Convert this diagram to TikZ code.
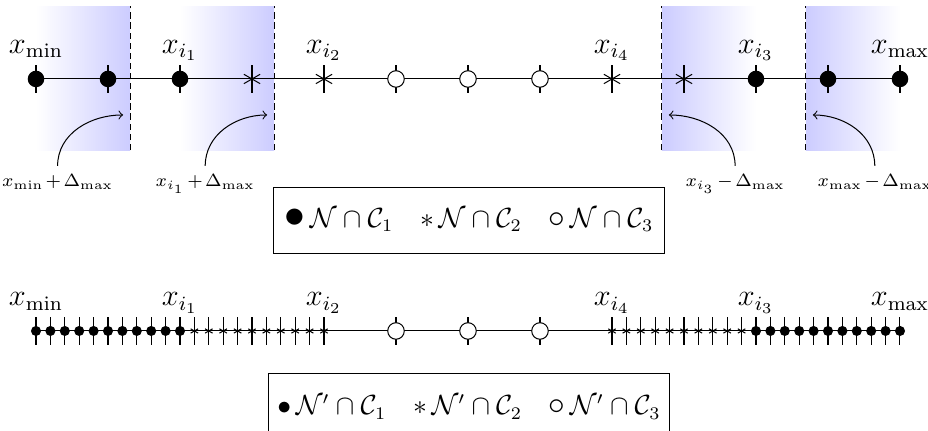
\documentclass[tikz,border=0pt]{standalone}
\usepackage{amsmath,amssymb}
\usepackage{tikz}
\newcommand{\dlbl}[1]{$\medmuskip=2mu\relax #1$}
\tikzset{every picture/.style={line width=0.4pt},
  bigdot/.style={circle,fill=black,inner sep=0pt,minimum size=0.23cm},
  smalldot/.style={circle,fill=black,inner sep=0pt,minimum size=0.14cm},
  opendot/.style={circle,draw,fill=white,inner sep=0pt,minimum size=0.23cm},
  legendbox/.style={draw,minimum width=5.42cm,minimum height=0.917cm,font=\fontsize{10.5}{12}\selectfont},
  deltalbl/.style={font=\fontsize{7.4}{9}\selectfont,anchor=base},
  ptlbl/.style={font=\large,anchor=base},
  zoneedge/.style={dash pattern=on 2.5pt off 1.5pt},
  bigast/.pic={\draw (30:0.13) -- (210:0.13) (150:0.13) -- (330:0.13);},
  smallast/.pic={\draw (30:0.06) -- (210:0.06) (150:0.06) -- (330:0.06);}}

\begin{document}
\begin{tikzpicture}[x=1cm,y=1cm]
\useasboundingbox (0,0) rectangle (12.889,5.986);
\shade[left color=white,right color=blue!20] (0.5,3.9) rectangle (1.806,5.9);
\shade[left color=white,right color=blue!20] (2.5,3.9) rectangle (3.806,5.9);
\shade[left color=blue!20,right color=white] (9.194,3.9) rectangle (10.5,5.9);
\shade[left color=blue!20,right color=white] (11.194,3.9) rectangle (12.5,5.9);
\foreach \xd in {1.806,3.806,9.194,11.194}
  \draw[zoneedge] (\xd,3.9) -- (\xd,5.9);
\foreach \i in {0,...,12} \coordinate (a\i) at (0.5+\i,4.889);
\draw (a0) -- (a12);
\foreach \i in {0,...,12} \draw (a\i) ++(0,-0.19) -- ++(0,0.38);
\foreach \i in {0,1,2,10,11,12} \node[bigdot] (n\i) at (a\i) {};
\foreach \i in {3,4,8,9} \pic at (a\i) {bigast};
\foreach \i in {5,6,7} \node[opendot] (n\i) at (a\i) {};
\foreach \i/\lab in {0/{\min},2/{i_1},4/{i_2},8/{i_4},10/{i_3},12/{\max}}
  \path (a\i) ++(0,0.36) node[ptlbl] (ta\i) {$x_{\lab}$};
\coordinate (e1) at (1.71,4.389);
\coordinate (e2) at (3.71,4.389);
\coordinate (e3) at (9.29,4.389);
\coordinate (e4) at (11.29,4.389);
\node[deltalbl] (d1) at (0.80,3.389) {\dlbl{x_{\min}+\Delta_{\max}}};
\node[deltalbl] (d2) at (2.85,3.389) {\dlbl{x_{i_1}+\Delta_{\max}}};
\node[deltalbl] (d3) at (10.21,3.389) {\dlbl{x_{i_3}-\Delta_{\max}}};
\node[deltalbl] (d4) at (12.15,3.389) {\dlbl{x_{\max}-\Delta_{\max}}};
\draw[->] (d1.north) to[out=90,in=180] (e1);
\draw[->] (d2.north) to[out=90,in=180] (e2);
\draw[->] (d3.north) to[out=90,in=0] (e3);
\draw[->] (d4.north) to[out=90,in=0] (e4);
\node[legendbox] (leg1) at (6.514,2.93)
  {$\scalebox{1.5}{$\bullet$}\,\mathcal{N}\cap\mathcal{C}_1\quad{\ast}\,\mathcal{N}\cap\mathcal{C}_2\quad\scalebox{1.2}{$\circ$}\,\mathcal{N}\cap\mathcal{C}_3$};
\coordinate (b0) at (0.5,1.389);
\coordinate (b1) at (12.5,1.389);
\draw (b0) -- (b1);
\foreach \k in {0,...,20} {
  \draw (0.5+0.2*\k,1.199) -- ++(0,0.38);
  \draw (8.5+0.2*\k,1.199) -- ++(0,0.38);}
\foreach \xo in {5.5,6.5,7.5} \draw (\xo,1.199) -- ++(0,0.38);
\foreach \k in {0,...,10} {
  \node[smalldot] (u\k) at (0.5+0.2*\k,1.389) {};
  \node[smalldot] (w\k) at (10.5+0.2*\k,1.389) {};}
\foreach \k in {1,...,10} \pic at (2.5+0.2*\k,1.389) {smallast};
\foreach \k in {0,...,9} \pic at (8.5+0.2*\k,1.389) {smallast};
\foreach \xo/\nm in {5.5/o1,6.5/o2,7.5/o3} \node[opendot] (\nm) at (\xo,1.389) {};
\foreach \xl/\lab in {0.5/{\min},2.5/{i_1},4.5/{i_2},8.5/{i_4},10.5/{i_3},12.5/{\max}}
  \node[ptlbl] (tb\xl) at (\xl,1.739) {$x_{\lab}$};
\node[legendbox] (leg2) at (6.514,0.333)
  {$\bullet\,\mathcal{N}'\cap\mathcal{C}_1\quad{\ast}\,\mathcal{N}'\cap\mathcal{C}_2\quad\scalebox{1.2}{$\circ$}\,\mathcal{N}'\cap\mathcal{C}_3$};
\end{tikzpicture}
\end{document}
